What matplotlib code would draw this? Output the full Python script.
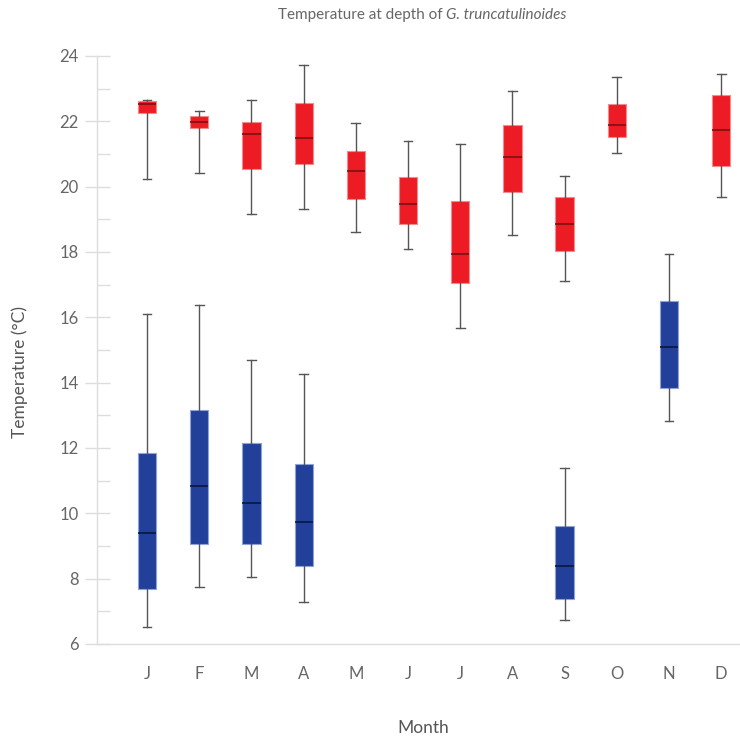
import matplotlib
matplotlib.use("Agg")
import matplotlib.pyplot as plt
from matplotlib.ticker import MultipleLocator

plt.rcParams['font.family'] = ['Lato', 'DejaVu Sans']

months = ['J', 'F', 'M', 'A', 'M', 'J', 'J', 'A', 'S', 'O', 'N', 'D']

# warm season (red) boxes, one per month
red_pos = [1, 2, 3, 4, 5, 6, 7, 8, 9, 10, 11, 12]
red_low = [20.24, 20.41, 19.15, 19.31, 18.61, 18.08, 15.66, 18.53, 17.10, 21.03, None, 19.69]
red_q1 = [22.25, 21.80, 20.55, 20.69, 19.63, 18.85, 17.04, 19.83, 18.02, 21.51, None, 20.62]
red_med = [22.53, 21.98, 21.62, 21.49, 20.47, 19.48, 17.95, 20.91, 18.85, 21.89, None, 21.73]
red_q3 = [22.62, 22.16, 21.99, 22.57, 21.08, 20.28, 19.56, 21.89, 19.68, 22.53, None, 22.81]
red_high = [22.66, 22.30, 22.65, 23.71, 21.94, 21.41, 21.31, 22.92, 20.33, 23.37, None, 23.46]

# cold (blue) boxes, only some months
blue_pos = [1, 2, 3, 4, 9, 11]
blue_low = [6.51, 7.73, 8.06, 7.28, 6.73, 12.83]
blue_q1 = [7.69, 9.05, 9.05, 8.39, 7.38, 13.83]
blue_med = [9.39, 10.84, 10.30, 9.73, 8.39, 15.08]
blue_q3 = [11.84, 13.15, 12.16, 11.50, 9.60, 16.49]
blue_high = [16.10, 16.38, 14.70, 14.27, 11.38, 17.94]


def make_stats(pos, low, q1, med, q3, high):
    stats, where = [], []
    for p, a, b, c, d, e in zip(pos, low, q1, med, q3, high):
        if a is None:
            continue
        stats.append(dict(whislo=a, q1=b, med=c, q3=d, whishi=e, fliers=[]))
        where.append(p)
    return stats, where


fig = plt.figure(figsize=(7.4, 7.41), dpi=100)
ax = fig.add_axes([0.131, 0.131, 0.869, 0.7935])

grey = '#555555'
for args, face, edge, medc in [
        ((red_pos, red_low, red_q1, red_med, red_q3, red_high), '#ED1C24', '#F28A8E', '#7A1014'),
        ((blue_pos, blue_low, blue_q1, blue_med, blue_q3, blue_high), '#22409A', '#8FA3D6', '#0B1740')]:
    st, where = make_stats(*args)
    ax.bxp(st, positions=where, widths=0.35, patch_artist=True, showfliers=False,
           boxprops=dict(facecolor=face, edgecolor=edge, linewidth=0.8),
           medianprops=dict(color=medc, linewidth=1.2),
           whiskerprops=dict(color=grey, linewidth=1.0),
           capprops=dict(color=grey, linewidth=1.0),
           capwidths=0.17, zorder=3)

ax.set_xlim(0.04, 12.36)
ax.set_ylim(6, 24)
ax.set_xticks(range(1, 13))
ax.set_xticklabels(months)
ax.yaxis.set_major_locator(MultipleLocator(2))
ax.yaxis.set_minor_locator(MultipleLocator(1))

for s in ['top', 'right']:
    ax.spines[s].set_visible(False)
for s in ['left', 'bottom']:
    ax.spines[s].set_color('#dddddd')
    ax.spines[s].set_linewidth(1.0)

ax.tick_params(axis='x', length=0, pad=16, labelsize=12, labelcolor='#666666')
ax.tick_params(axis='y', which='major', direction='inout', length=18, width=1,
               color='#dddddd', labelsize=12, labelcolor='#666666', pad=4)
ax.tick_params(axis='y', which='minor', direction='in', length=9, width=1, color='#dddddd')

# axis titles placed on the figure
fig.text(20 / 740, 1 - 372 / 741, 'Temperature (°C)', rotation=90, ha='center', va='center',
         fontsize=12.5, color='#555555')
fig.text(423 / 740, 1 - 728 / 741, 'Month', ha='center', va='center',
         fontsize=12.5, color='#555555')

# title: plain part followed by the italic species name
t1 = fig.text(278 / 740, 1 - 15 / 741, 'Temperature at depth of ', ha='left', va='center',
              fontsize=11, color='#666666')
ax.annotate('G. truncatulinoides', xy=(1, 0), xycoords=t1, va='bottom', ha='left',
            fontsize=11, color='#666666', style='italic', annotation_clip=False)

fig.savefig('out.png', dpi=100)
